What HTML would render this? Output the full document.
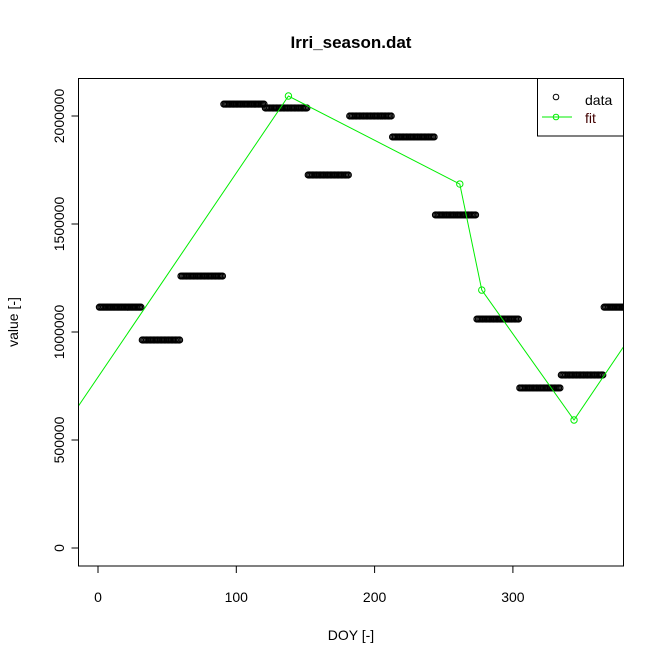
<!DOCTYPE html>
<html><head><meta charset="utf-8"><style>
body{margin:0;background:#fff}
svg{display:block;font-family:"Liberation Sans",Arial,sans-serif}
</style></head><body>
<svg id="chart" width="664" height="664" viewBox="0 0 664 664">
<defs><clipPath id="pc"><rect x="78.5" y="78.5" width="545" height="487.5"/></clipPath></defs>
<text x="351" y="48" text-anchor="middle" font-size="17" font-weight="bold">Irri_season.dat</text>
<text x="351" y="640" text-anchor="middle" font-size="14">DOY [-]</text>
<text x="0" y="0" transform="translate(18,322) rotate(-90)" text-anchor="middle" font-size="14">value [-]</text>
<g id="axes"></g>
<g id="marks" clip-path="url(#pc)"></g>
<rect x="78.5" y="78.5" width="545" height="487.5" fill="none" stroke="#000"/>
<g>
<rect x="537.5" y="78.5" width="86" height="57.5" fill="#fff" stroke="#000"/>
<circle cx="556" cy="97" r="2.8" fill="none" stroke="#000"/>
<text x="585" y="105" font-size="14">data</text>
<line x1="542" y1="117" x2="572" y2="117" stroke="#00ee00"/>
<circle cx="556" cy="117" r="2.8" fill="none" stroke="#00ee00"/>
<text x="585" y="123" font-size="14" fill="#400000">fit</text>
</g>
</svg>
<script>
const monthStarts=[1,32,60,91,121,152,182,213,244,274,305,335,366];
const monthEnds=[31,59,90,120,151,181,212,243,273,304,334,365,384];
const monthValues=[1115000,963000,1259000,2055000,2037000,1727000,2000000,1903000,1542000,1060000,741000,801000,1115000];
const fitDays=[-21,137.7,261.6,277.5,344.2,502.7];
const fitValues=[592600,2092600,1685000,1194000,592600,2092600];
const xTicks=[0,100,200,300];
const yTicks=[0,500000,1000000,1500000,2000000];
const yTickLabels=["0","500000","1000000","1500000","2000000"];
const NS="http://www.w3.org/2000/svg";
function X(d){return 98+d*1.383;}
function Y(v){return 548-v*108/500000;}
function mk(t,a,p){const e=document.createElementNS(NS,t);for(const k in a)e.setAttribute(k,a[k]);p.appendChild(e);return e;}
const axes=document.getElementById('axes'),marks=document.getElementById('marks');
xTicks.forEach(t=>{
 const l=mk('line',{x1:X(t),x2:X(t),y1:566,y2:573,stroke:'#000'},axes);
 
 
 const tx=mk('text',{x:X(t),y:602,'text-anchor':'middle','font-size':14},axes);tx.textContent=t;
 
 
});
yTicks.forEach((t,i)=>{
 const l=mk('line',{x1:71.5,x2:78.5,y1:Y(t),y2:Y(t),stroke:'#000'},axes);
 
 
 const tx=mk('text',{x:0,y:0,transform:`translate(64,${Y(t)}) rotate(-90)`,'text-anchor':'middle','font-size':14},axes);tx.textContent=yTickLabels[i];
 
 
});
monthValues.forEach((v,i)=>{
 for(let d=monthStarts[i];d<=monthEnds[i];d++){
  const c=mk('circle',{cx:X(d),cy:Y(v),r:3,fill:'none',stroke:'#000','stroke-width':1.2},marks);
  
  
 }
});
const pl=mk('polyline',{points:fitDays.map((d,i)=>X(d)+','+Y(fitValues[i])).join(' '),fill:'none',stroke:'#00ee00'},marks);


fitDays.forEach((d,i)=>{
 const c=mk('circle',{cx:X(d),cy:Y(fitValues[i]),r:3.2,fill:'none',stroke:'#00ee00'},marks);
 
 
});
</script>
</body></html>
